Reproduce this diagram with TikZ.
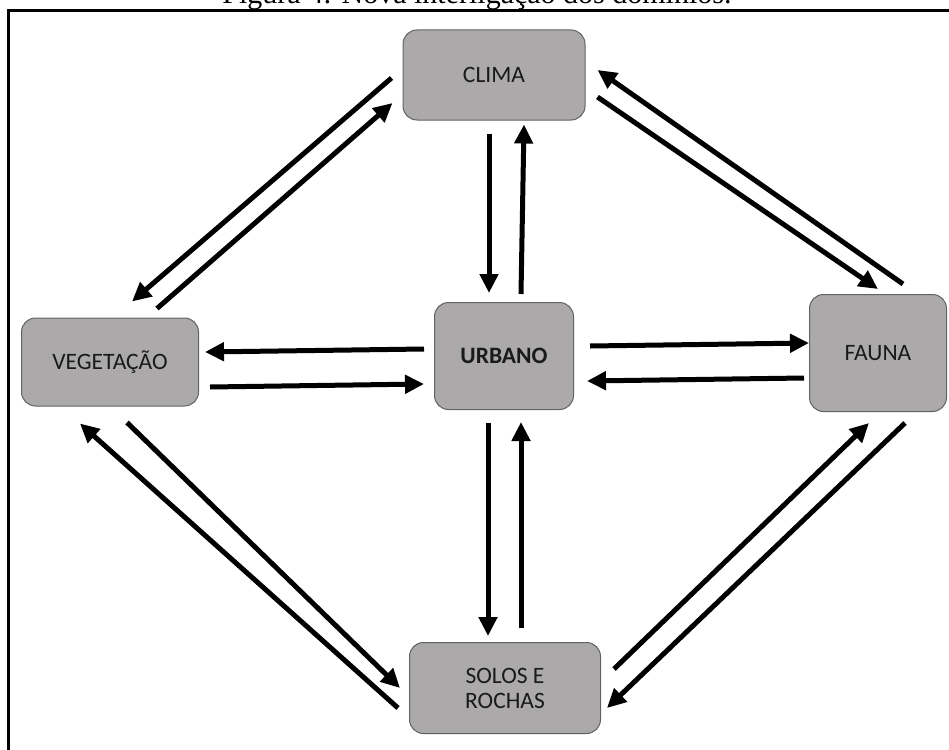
\documentclass[tikz,border=0pt]{standalone}
\usepackage{fontspec}
\setmainfont{Carlito}
\newfontfamily\capfont{Liberation Serif}
\usetikzlibrary{arrows.meta}
\definecolor{boxfill}{HTML}{ABA9A9}
\definecolor{boxline}{HTML}{626262}
\definecolor{boxtext}{HTML}{1A1A1A}
\tikzset{
  dombox/.style={draw=boxline, line width=1pt, fill=boxfill, rounded corners=14pt,
    text=boxtext, font=\fontsize{23.5}{26}\selectfont, align=center, inner sep=0pt},
  link/.style={line width=5pt, -{Triangle[length=19pt,width=18pt]}, shorten >=0pt}
}
\begin{document}
\begin{tikzpicture}[x=1pt,y=-1pt]
\useasboundingbox (0,0) rectangle (949,749);
\clip (0,0) rectangle (949,749);
% caption (cut off at top)
\node[anchor=base, inner sep=0pt, font=\capfont\fontsize{30}{34}\selectfont] (cap) at (477,4) {Figura 4: Nova interligação dos domínios.};
% frame
\coordinate (frameTL) at (8.5,10.5);
\coordinate (frameTR) at (960,10.5);
\coordinate (frameBL) at (8.5,760);
\draw[line width=2.2pt] (frameTR) -- (frameTL) -- (frameBL);
% nodes
\node[dombox, minimum width=182pt, minimum height=90pt] (clima) at (494,75) {CLIMA};
\node[dombox, minimum width=177pt, minimum height=88pt] (veg) at (110,362) {VEGETAÇÃO};
\node[dombox, minimum width=139pt, minimum height=107pt] (urb) at (504,356) {\textbf{URBANO}};
\node[dombox, minimum width=137pt, minimum height=117pt] (fauna) at (878,353) {FAUNA};
\node[dombox, minimum width=191pt, minimum height=91pt] (solos) at (505,688) {SOLOS E\\[-1pt]ROCHAS};
% connectors
\draw[link] ([shift={(-11,3)}]clima.west) -- ([shift={(22,-16)}]veg.north);
\draw[link] ([shift={(47,-9)}]veg.north) -- ([shift={(-10,28)}]clima.west);
\draw[link] ([shift={(-5,13)}]clima.south) -- ([shift={(-15,-9)}]urb.north);
\draw[link] ([shift={(17,-8)}]urb.north) -- ([shift={(30,4)}]clima.south);
\draw[link] ([shift={(25,-10)}]fauna.north) -- ([shift={(12,-5)}]clima.east);
\draw[link] ([shift={(12,22)}]clima.east) -- ([shift={(0,-5)}]fauna.north);
\draw[link] ([shift={(-10,-7)}]urb.west) -- ([shift={(6,-10)}]veg.east);
\draw[link] ([shift={(11,25)}]veg.east) -- ([shift={(-10,28)}]urb.west);
\draw[link] ([shift={(16,-10)}]urb.east) -- ([shift={(0,-10)}]fauna.west);
\draw[link] ([shift={(-5,25)}]fauna.west) -- ([shift={(13,25)}]urb.east);
\draw[link] ([shift={(-16,13)}]urb.south) -- ([shift={(-17,-6)}]solos.north);
\draw[link] ([shift={(16,-14)}]solos.north) -- ([shift={(17,12)}]urb.south);
\draw[link] ([shift={(-11,20)}]solos.west) -- ([shift={(-30,17)}]veg.south);
\draw[link] ([shift={(17,16)}]veg.south) -- ([shift={(-9,0)}]solos.west);
\draw[link] ([shift={(13,-19)}]solos.east) -- ([shift={(-9,11)}]fauna.south);
\draw[link] ([shift={(27,11)}]fauna.south) -- ([shift={(6,20)}]solos.east);
\end{tikzpicture}
\end{document}
